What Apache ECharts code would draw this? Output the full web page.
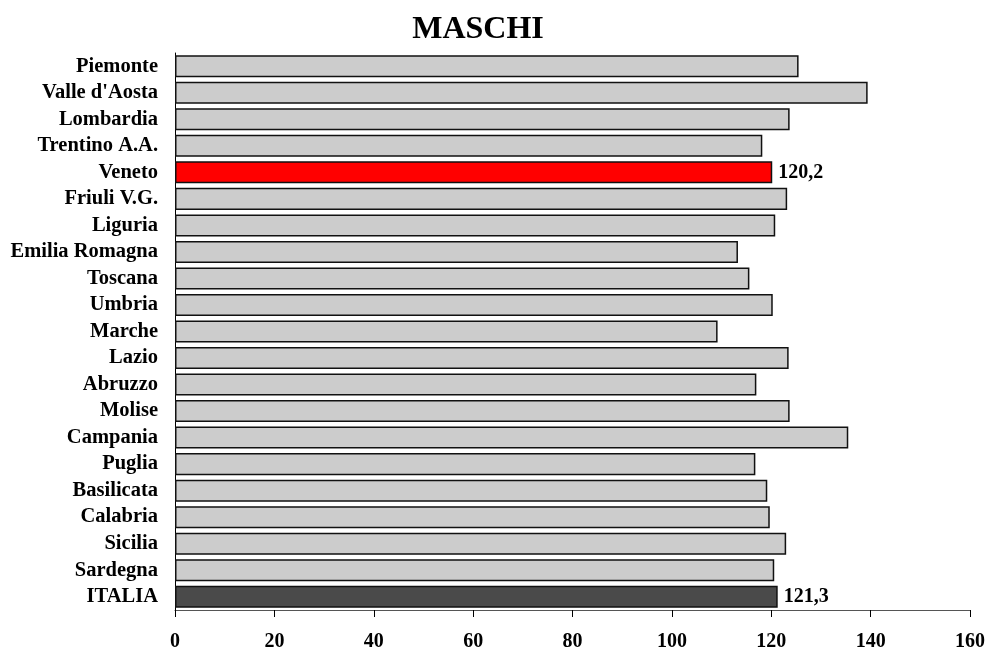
<!DOCTYPE html>
<html>
<head>
<meta charset="utf-8">
<script src="https://cdn.jsdelivr.net/npm/echarts@6/dist/echarts.min.js"></script>
<style>
html,body{margin:0;padding:0;background:#fff;}
#chart{width:986px;height:648px;}
</style>
</head>
<body>
<div id="chart"></div>
<script>
const titleText = 'MASCHI';
const regions = ['Piemonte','Valle d\'Aosta','Lombardia','Trentino A.A.','Veneto','Friuli V.G.','Liguria','Emilia Romagna','Toscana','Umbria','Marche','Lazio','Abruzzo','Molise','Campania','Puglia','Basilicata','Calabria','Sicilia','Sardegna','ITALIA'];
const values = [125.5,139.4,123.7,118.2,120.2,123.2,120.8,113.3,115.6,120.3,109.2,123.5,117.0,123.7,135.5,116.8,119.2,119.7,123.0,120.6,121.3];
const highlighted = {'Veneto':'#ff0000','ITALIA':'#4a4a4a'};
const labelled = ['Veneto','ITALIA'];
const xTicks = {min:0,max:160,interval:20};

const serif = '"Liberation Serif","Times New Roman",serif';
const chart = echarts.init(document.getElementById('chart'));
chart.setOption({
  animation:false,
  backgroundColor:'#fff',
  title:{
    text:titleText,
    left:473, textAlign:'center', top:9,
    textStyle:{fontFamily:serif,fontWeight:'bold',fontSize:32,color:'#000'}
  },
  grid:{left:175,right:16,top:53,bottom:38,containLabel:false,outerBoundsMode:'none'},
  xAxis:{
    type:'value',min:xTicks.min,max:xTicks.max,interval:xTicks.interval,
    axisLine:{show:true,lineStyle:{color:'#555',width:1}},
    axisTick:{show:true,length:7,lineStyle:{color:'#000',width:1}},
    splitLine:{show:false},
    axisLabel:{margin:22,fontFamily:serif,fontWeight:'bold',fontSize:20,color:'#000'}
  },
  yAxis:{
    type:'category',data:regions,inverse:true,
    axisLine:{show:true,lineStyle:{color:'#000',width:1}},
    axisTick:{show:false},
    axisLabel:{interval:0,margin:17,fontFamily:serif,fontWeight:'bold',fontSize:20.5,color:'#000'}
  },
  series:[{
    type:'bar',
    barCategoryGap:'17%',
    data:regions.map((r,i)=>({
      value:values[i],
      itemStyle:{color:highlighted[r]||'#cccccc'},
      label:{show:labelled.includes(r)}
    })),
    itemStyle:{borderColor:'#111',borderWidth:1.5},
    label:{
      position:'right',distance:6,
      fontFamily:serif,fontWeight:'bold',fontSize:20,color:'#000',
      formatter:p=>p.value.toFixed(1).replace('.',',')
    }
  }]
});
</script>
</body>
</html>
